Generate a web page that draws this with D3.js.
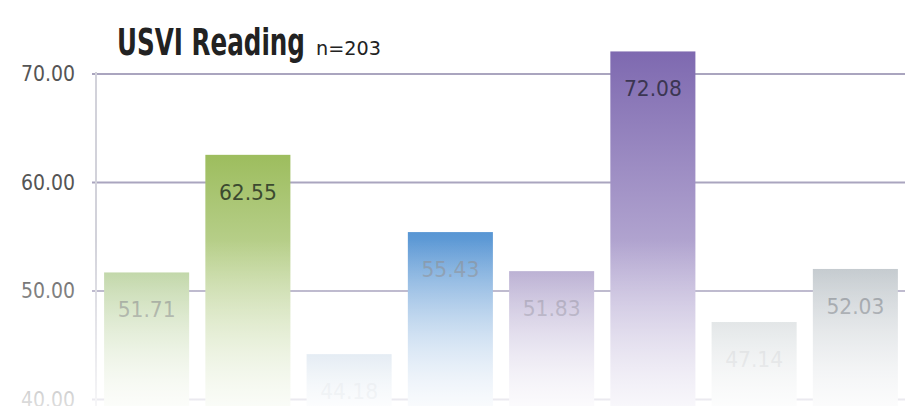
<!DOCTYPE html>
<html>
<head>
<meta charset="utf-8">
<script src="https://cdn.jsdelivr.net/npm/d3@7"></script>
<style>
  body { margin: 0; background: #fff; }
  svg { display: block; }
  text { font-family: "Liberation Sans Narrow", "DejaVu Sans Condensed", sans-serif; }
</style>
</head>
<body>
<div id="chart"></div>
<script>
// data
var groups = ["g1", "g2", "g3", "g4", "g5", "g6", "g7", "g8"];
var scores = [51.71, 62.55, 44.18, 55.43, 51.83, 72.08, 47.14, 52.03];
var yTicks = [40, 50, 60, 70];

// bar colours (top, bottom) and label colours
var topColors = ["#b7d09a", "#9dbd5e", "#c4d5e6", "#5896d4", "#b0a4cc", "#7e69b0", "#d0d6d8", "#bcc3c8"];
var botColors = ["#eef4e6", "#e6efd9", "#eef3f8", "#dfe9f5", "#ece8f3", "#dcd6ea", "#f1f3f4", "#eceef0"];
var labelColors = ["#87917f", "#3c4a30", "#c6d0da", "#7a90a8", "#958ea9", "#3b3652", "#c2c6c9", "#80868d"];

var width = 905, height = 406;
var margin = {top: 74, right: -1, bottom: 0, left: 96};

var svg = d3.select("#chart").append("svg")
    .attr("width", width)
    .attr("height", height);

var defs = svg.append("defs");

var x = d3.scaleBand()
    .domain(groups)
    .range([margin.left, width - margin.right])
    .paddingInner(0.16)
    .paddingOuter(0.08);

var y = d3.scaleLinear()
    .domain([40, 70])
    .range([399.5, 74]);

// gradients for bars
groups.forEach(function(g, i) {
  var grad = defs.append("linearGradient")
      .attr("id", "grad" + i)
      .attr("gradientUnits", "userSpaceOnUse")
      .attr("x1", 0).attr("x2", 0)
      .attr("y1", y(scores[i])).attr("y2", height);
  grad.append("stop").attr("offset", "0%").attr("stop-color", topColors[i]);
  grad.append("stop").attr("offset", "100%").attr("stop-color", botColors[i]);
});

// gridlines
svg.append("g")
  .selectAll("line")
  .data(yTicks)
  .enter()
  .append("line")
    .attr("x1", margin.left - 4)
    .attr("x2", width)
    .attr("y1", function(d) { return y(d); })
    .attr("y2", function(d) { return y(d); })
    .attr("stroke", "#aaa5bf")
    .attr("stroke-width", 2);

// vertical axis line
svg.append("line")
    .attr("x1", margin.left).attr("x2", margin.left)
    .attr("y1", y(70) - 2).attr("y2", height)
    .attr("stroke", "#d2d2da")
    .attr("stroke-width", 2);

// y labels
svg.append("g")
  .selectAll("text")
  .data(yTicks)
  .enter()
  .append("text")
    .attr("x", 75)
    .attr("y", function(d) { return y(d) + 7; })
    .attr("text-anchor", "end")
    .attr("font-size", 21)
    .attr("fill", "#555")
    .attr("textLength", 54)
    .attr("lengthAdjust", "spacingAndGlyphs")
    .text(function(d) { return d3.format(".2f")(d); });

// bars
svg.append("g")
  .selectAll("rect")
  .data(scores)
  .enter()
  .append("rect")
    .attr("x", function(d, i) { return x(groups[i]); })
    .attr("y", function(d) { return y(d); })
    .attr("width", x.bandwidth())
    .attr("height", function(d) { return height - y(d); })
    .attr("fill", function(d, i) { return "url(#grad" + i + ")"; });

// value labels
svg.append("g")
  .selectAll("text")
  .data(scores)
  .enter()
  .append("text")
    .attr("x", function(d, i) { return x(groups[i]) + x.bandwidth() / 2; })
    .attr("y", function(d) { return y(d) + 45; })
    .attr("text-anchor", "middle")
    .attr("font-size", 22)
    .attr("fill", function(d, i) { return labelColors[i]; })
    .attr("textLength", 58)
    .attr("lengthAdjust", "spacingAndGlyphs")
    .text(function(d) { return d3.format(".2f")(d); });

// fade to white at the bottom
var fade = defs.append("linearGradient")
    .attr("id", "fade")
    .attr("gradientUnits", "userSpaceOnUse")
    .attr("x1", 0).attr("x2", 0)
    .attr("y1", 240).attr("y2", height);
fade.append("stop").attr("offset", "0%").attr("stop-color", "#fff").attr("stop-opacity", 0);
fade.append("stop").attr("offset", "100%").attr("stop-color", "#fff").attr("stop-opacity", 0.8);

svg.append("rect")
    .attr("x", 0).attr("y", 240)
    .attr("width", width).attr("height", height - 240)
    .attr("fill", "url(#fade)");

// title, squeezed horizontally to look like a condensed face
function squeezed(txt, left, base, size, bold, targetWidth) {
  var t = svg.append("text")
      .attr("fill", "#222")
      .attr("font-size", size)
      .attr("font-weight", bold ? "bold" : "normal")
      .text(txt);
  var w = t.node().getComputedTextLength();
  t.attr("transform", `translate(${left}, ${base}) scale(${targetWidth / w}, 1)`);
}
squeezed("USVI Reading", 117, 55, 38, true, 188);
squeezed("n=203", 316, 55, 20, false, 65);
</script>
</body>
</html>
